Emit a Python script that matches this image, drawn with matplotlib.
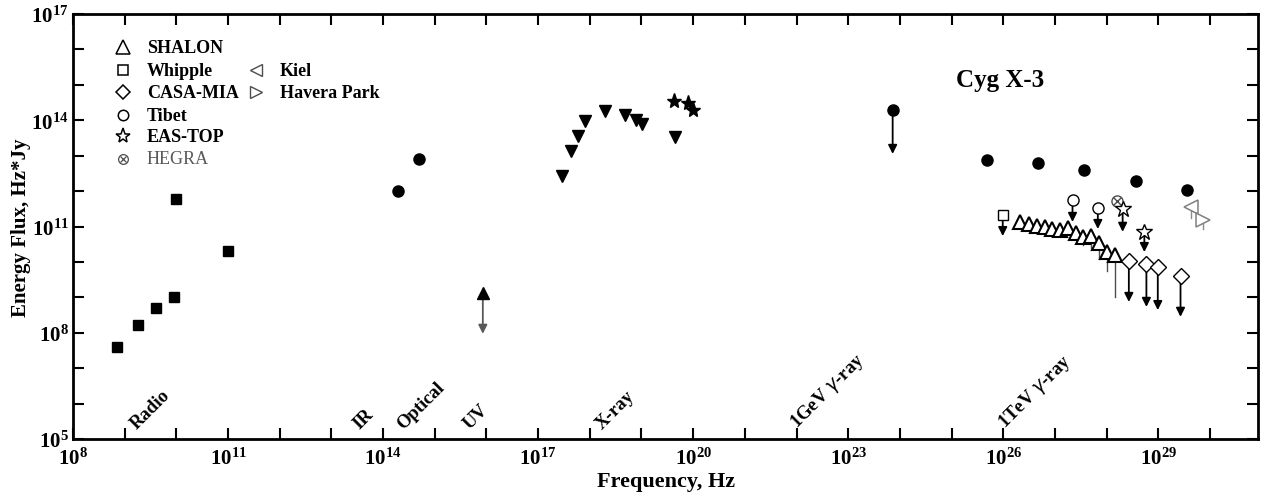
import numpy as np
import matplotlib
matplotlib.use("Agg")
import matplotlib.pyplot as plt

plt.rcParams["font.family"] = ["Liberation Serif", "DejaVu Serif"]
plt.rcParams["mathtext.fontset"] = "custom"
plt.rcParams["mathtext.rm"] = "Liberation Serif"
plt.rcParams["mathtext.bf"] = "Liberation Serif:bold"

# all values are log10(frequency / Hz) and log10(energy flux / Hz*Jy)
radio_lf = [8.85, 9.26, 9.61, 9.95, 9.99, 11.0]
radio_ly = [7.60, 8.22, 8.70, 9.01, 11.78, 10.31]

optical_lf = [14.29, 14.69]
optical_ly = [12.00, 12.91]

uv_lf, uv_ly, uv_ly_end = [15.93], [9.12], [7.97]

xray_lf = [17.46, 17.63, 17.77, 17.90, 18.29, 18.68, 18.89, 19.01, 19.64]
xray_ly = [12.43, 13.14, 13.56, 13.98, 14.27, 14.15, 14.01, 13.90, 13.53]

xstar_lf = [19.62, 19.90, 19.99]
xstar_ly = [14.55, 14.49, 14.29]

gev_lf, gev_ly, gev_ly_end = [23.86], [14.29], [13.05]

tev_lf = [25.68, 26.67, 27.57, 28.56, 29.55]
tev_ly = [12.88, 12.80, 12.60, 12.29, 12.03]

shalon_lf = [26.33, 26.50, 26.65, 26.81, 26.95, 27.10, 27.26, 27.41, 27.55, 27.70, 27.86, 28.00, 28.16]
shalon_ly = [11.12, 11.07, 11.02, 10.98, 10.93, 10.90, 10.95, 10.82, 10.70, 10.74, 10.54, 10.28, 10.20]
shalon_lo = [np.nan, np.nan, 10.92, 10.86, 10.82, 10.76, 10.82, 10.70, 10.48, 10.40, 10.08, 9.75, 9.01]

whipple_lf, whipple_ly, whipple_end = [25.99], [11.33], [10.73]
tibet_lf, tibet_ly, tibet_end = [27.34, 27.83], [11.75, 11.53], [11.13, 10.93]
hegra_lf, hegra_ly = [28.21], [11.72]
eastop_lf, eastop_ly, eastop_end = [28.31, 28.73], [11.50, 10.85], [10.85, 10.28]
casa_lf = [28.43, 28.77, 28.99, 29.43]
casa_ly = [10.03, 9.94, 9.86, 9.60]
casa_end = [8.87, 8.73, 8.64, 8.45]
kiel_lf, kiel_ly, kiel_lo = [29.64], [11.55], [11.25]
havera_lf, havera_ly, havera_lo = [29.86], [11.19], [10.92]

band_names = ["Radio", "IR", "Optical", "UV", "X-ray", r"1GeV $\gamma$-ray", r"1TeV $\gamma$-ray"]
band_lf = [9.29, 13.59, 14.44, 15.73, 18.29, 22.08, 26.12]

legend_items = [("SHALON", "^"), ("Whipple", "s"), ("CASA-MIA", "D"),
                ("Tibet", "o"), ("EAS-TOP", "*"), ("HEGRA", "hegra")]
legend_items2 = [("Kiel", "<"), ("Havera Park", ">")]


def p(v):
    return np.power(10.0, np.asarray(v, dtype=float))


def arrows(ax, lf, ly, lend, color="k"):
    for f, y, e in zip(lf, ly, lend):
        ax.annotate("", xy=(p(f), p(e)), xytext=(p(f), p(y)),
                    arrowprops=dict(arrowstyle="-|>", color=color, lw=1.3,
                                    mutation_scale=13, shrinkA=0, shrinkB=0), zorder=2)


fig = plt.figure(figsize=(12.65, 5.02), dpi=100)
ax = fig.add_axes([0.0577, 0.1235, 0.9368, 0.8465])
ax.set_xscale("log")
ax.set_yscale("log")
ax.set_xlim(1e8, 10 ** 30.93)
ax.set_ylim(1e5, 1e17)

k = dict(linestyle="none", color="k")
ax.plot(p(radio_lf), p(radio_ly), marker="s", ms=7, **k)
ax.plot(p(optical_lf), p(optical_ly), marker="o", ms=8, **k)
arrows(ax, uv_lf, uv_ly, uv_ly_end, color="0.35")
ax.plot(p(uv_lf), p(uv_ly), marker="^", ms=9, zorder=3, **k)
ax.plot(p(xray_lf), p(xray_ly), marker="v", ms=9, **k)
ax.plot(p(xstar_lf), p(xstar_ly), marker="*", ms=11, **k)
arrows(ax, gev_lf, gev_ly, gev_ly_end)
ax.plot(p(gev_lf), p(gev_ly), marker="o", ms=8, zorder=3, **k)
ax.plot(p(tev_lf), p(tev_ly), marker="o", ms=8, **k)

# SHALON lower error bars
for f, y, lo in zip(shalon_lf, shalon_ly, shalon_lo):
    if not np.isnan(lo):
        ax.plot([p(f), p(f)], [p(y), p(lo)], color="0.3", lw=1.0, zorder=1)
ax.plot(p(shalon_lf), p(shalon_ly), marker="^", ms=10, mfc="white", mec="k", mew=1.5,
        linestyle="none", zorder=3)

arrows(ax, whipple_lf, whipple_ly, whipple_end)
ax.plot(p(whipple_lf), p(whipple_ly), marker="s", ms=7, mfc="white", mec="k", mew=1.0,
        linestyle="none", zorder=3)
arrows(ax, tibet_lf, tibet_ly, tibet_end)
ax.plot(p(tibet_lf), p(tibet_ly), marker="o", ms=8, mfc="white", mec="k", mew=1.0,
        linestyle="none", zorder=3)
ax.plot(p(hegra_lf), p(hegra_ly), marker="o", ms=8, mfc="white", mec="0.3", mew=1.0,
        linestyle="none", zorder=3)
ax.plot(p(hegra_lf), p(hegra_ly), marker="x", ms=5.5, mec="0.3", mew=1.0,
        linestyle="none", zorder=3)
arrows(ax, eastop_lf, eastop_ly, eastop_end)
ax.plot(p(eastop_lf), p(eastop_ly), marker="*", ms=12, mfc="white", mec="k", mew=1.0,
        linestyle="none", zorder=3)
arrows(ax, casa_lf, casa_ly, casa_end)
ax.plot(p(casa_lf), p(casa_ly), marker="D", ms=8, mfc="white", mec="k", mew=1.0,
        linestyle="none", zorder=3)
for lf, ly, lo, m in [(kiel_lf, kiel_ly, kiel_lo, "<"), (havera_lf, havera_ly, havera_lo, ">")]:
    ax.plot([p(lf[0]), p(lf[0])], [p(ly[0]), p(lo[0])], color="0.55", lw=1.0, zorder=1)
    ax.plot(p(lf), p(ly), marker=m, ms=10, mfc="white", mec="0.5", mew=1.1,
            linestyle="none", zorder=3)

# band labels
for name, f in zip(band_names, band_lf):
    ax.text(p(f), 10 ** 5.2, name, rotation=45, rotation_mode="anchor",
            ha="left", va="bottom", fontsize=13.5, fontweight="bold")

ax.text(0.782, 0.847, "Cyg X-3", transform=ax.transAxes, ha="center", va="center",
        fontsize=18, fontweight="bold")

# legend
rows_y = [0.922, 0.868, 0.816, 0.762, 0.713, 0.659]
for (name, m), yy in zip(legend_items, rows_y):
    if m == "hegra":
        ax.plot(0.0422, yy, transform=ax.transAxes, marker="o", ms=7, mfc="white",
                mec="0.3", mew=0.9)
        ax.plot(0.0422, yy, transform=ax.transAxes, marker="x", ms=4.5, mec="0.3", mew=0.9)
        ax.text(0.0624, yy, name, transform=ax.transAxes, va="center", fontsize=13, color="0.35")
    else:
        ms = {"^": 10, "s": 6.5, "D": 7.5, "o": 7.5, "*": 11}[m]
        ax.plot(0.0422, yy, transform=ax.transAxes, marker=m, ms=ms, mfc="white",
                mec="k", mew=1.1)
        ax.text(0.0624, yy, name, transform=ax.transAxes, va="center", fontsize=13,
                fontweight="bold")
for (name, m), yy in zip(legend_items2, rows_y[1:3]):
    ax.plot(0.1544, yy, transform=ax.transAxes, marker=m, ms=8, mfc="white", mec="0.3", mew=1.0)
    ax.text(0.1747, yy, name, transform=ax.transAxes, va="center", fontsize=13,
            fontweight="bold")

# axes styling
xt = np.arange(8, 31)
yt = np.arange(5, 18)
ax.set_xticks(p(xt))
ax.set_xticklabels([r"$\mathbf{10^{%d}}$" % v if (v - 8) % 3 == 0 else "" for v in xt])
ax.set_yticks(p(yt))
ax.set_yticklabels([r"$\mathbf{10^{%d}}$" % v if (v - 5) % 3 == 0 else "" for v in yt])
ax.minorticks_off()
ax.tick_params(which="major", direction="in", length=8, width=1.5, labelsize=15,
               top=True, right=True, pad=6)
ax.tick_params(axis="y", pad=3)
for s in ax.spines.values():
    s.set_linewidth(2)
ax.set_xlabel("Frequency, Hz", fontsize=16, fontweight="bold", labelpad=2)
ax.set_ylabel("Energy Flux, Hz*Jy", fontsize=15, fontweight="bold", labelpad=0)

fig.savefig("out.png", dpi=100)
